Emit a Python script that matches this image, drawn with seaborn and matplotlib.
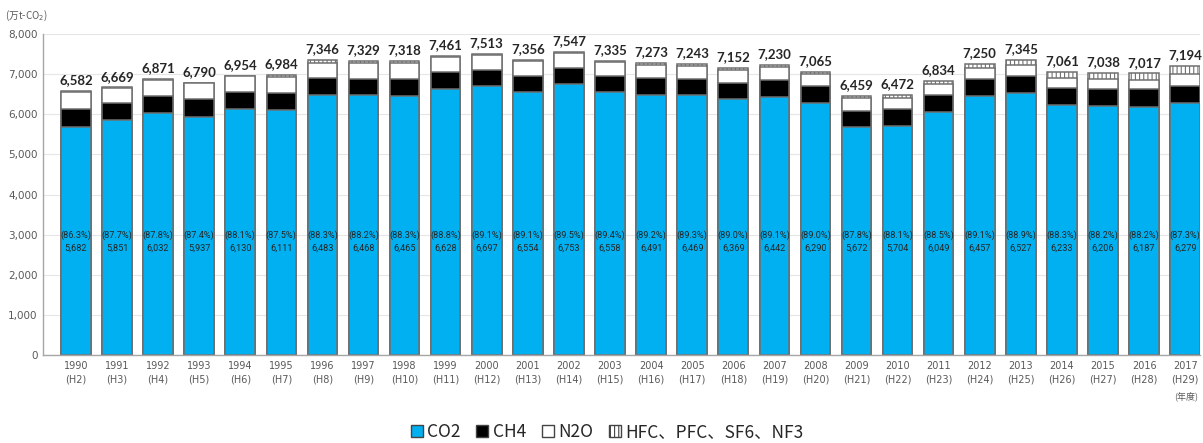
import matplotlib
matplotlib.use("Agg")
import matplotlib.pyplot as plt
from matplotlib.patches import Patch
import numpy as np
import pandas as pd
import seaborn as sns

# 温室効果ガス排出量の推移（万t-CO2）
years = [str(y) for y in range(1990, 2018)]
heisei = ["H2", "H3", "H4", "H5", "H6", "H7", "H8", "H9", "H10", "H11", "H12", "H13",
          "H14", "H15", "H16", "H17", "H18", "H19", "H20", "H21", "H22", "H23", "H24",
          "H25", "H26", "H27", "H28", "H29"]
co2 = [5682, 5851, 6032, 5937, 6130, 6111, 6483, 6468, 6465, 6628, 6697, 6554, 6753, 6558,
       6491, 6469, 6369, 6442, 6290, 5672, 5704, 6049, 6457, 6527, 6233, 6206, 6187, 6279]
ch4 = [450, 433, 434, 447, 436, 415, 415, 420, 418, 415, 410, 408, 405, 400,
       405, 400, 405, 410, 405, 420, 415, 420, 425, 430, 428, 432, 440, 430]
n2o = [430, 380, 400, 400, 380, 398, 388, 391, 390, 378, 371, 364, 359, 347,
       342, 334, 333, 328, 315, 307, 288, 285, 268, 268, 235, 230, 230, 305]
fgas = [20, 5, 5, 6, 8, 60, 60, 50, 45, 40, 35, 30, 30, 30,
        35, 40, 45, 50, 55, 60, 65, 80, 100, 120, 165, 170, 160, 180]
totals = [6582, 6669, 6871, 6790, 6954, 6984, 7346, 7329, 7318, 7461, 7513, 7356, 7547, 7335,
          7273, 7243, 7152, 7230, 7065, 6459, 6472, 6834, 7250, 7345, 7061, 7038, 7017, 7194]
co2_share = ["86.3", "87.7", "87.8", "87.4", "88.1", "87.5", "88.3", "88.2", "88.3", "88.8",
             "89.1", "89.1", "89.5", "89.4", "89.2", "89.3", "89.0", "89.1", "89.0", "87.8",
             "88.1", "88.5", "89.1", "88.9", "88.3", "88.2", "88.2", "87.3"]

df = pd.DataFrame({"year": years, "CO2": co2, "CH4": ch4, "N2O": n2o, "F": fgas})
df["lvl_ch4"] = df["CO2"] + df["CH4"]
df["lvl_n2o"] = df["lvl_ch4"] + df["N2O"]
df["lvl_all"] = df["lvl_n2o"] + df["F"]

sns.set_theme(style="white")
plt.rcParams["font.family"] = ["Noto Sans CJK JP", "DejaVu Sans"]
plt.rcParams["hatch.color"] = "#333333"
plt.rcParams["hatch.linewidth"] = 0.8

fig = plt.figure(figsize=(12.03, 4.43), dpi=100)
ax = fig.add_axes([43 / 1203, 1 - 355 / 443, (1200 - 43) / 1203, (355 - 34) / 443])

edge = "#707070"
bw = 0.72
# layers drawn from the tallest cumulative level down so each one covers the next
sns.barplot(data=df, x="year", y="lvl_all", color="white", edgecolor=edge, linewidth=1.1,
            hatch="||||", width=bw, ax=ax, saturation=1)
sns.barplot(data=df, x="year", y="lvl_n2o", color="white", edgecolor=edge, linewidth=1.1,
            width=bw, ax=ax, saturation=1)
sns.barplot(data=df, x="year", y="lvl_ch4", color="black", edgecolor=edge, linewidth=1.1,
            width=bw, ax=ax, saturation=1)
sns.barplot(data=df, x="year", y="CO2", color="#00B0F0", edgecolor=edge, linewidth=1.1,
            width=bw, ax=ax, saturation=1)

ax.set_ylim(0, 8000)
ax.set_xlim(-0.8, 27.36)
ax.set_yticks(range(0, 8001, 1000))
ax.set_yticklabels([f"{v:,}" for v in range(0, 8001, 1000)], fontsize=7.5,
                   color="#595959", family=["DejaVu Sans"])
ax.set_xticks(range(len(years)))
ax.set_xticklabels([f"{y}\n({h})" for y, h in zip(years, heisei)], fontsize=7,
                   color="#595959", linespacing=1.5, family=["DejaVu Sans"])
ax.tick_params(axis="both", length=0, pad=4)
ax.set_xlabel("")
ax.set_ylabel("")
ax.yaxis.grid(True, color="#e6e6e6", linewidth=0.8)
ax.set_axisbelow(True)
for side in ["top", "right"]:
    ax.spines[side].set_visible(False)
for side in ["left", "bottom"]:
    ax.spines[side].set_color("#a6a6a6")
    ax.spines[side].set_linewidth(1.0)

for i in range(len(years)):
    ax.text(i, totals[i] + 120, f"{totals[i]:,}", ha="center", va="bottom",
            fontsize=9.5, fontweight="bold", color="#262626", family=["Lato", "DejaVu Sans"])
    ax.text(i, 2820, f"({co2_share[i]}%)\n{co2[i]:,}", ha="center", va="center",
            fontsize=6.6, color="#262626", linespacing=1.5, family=["Roboto", "DejaVu Sans"])

fig.text(5 / 1203, 1 - 16 / 443, "(万t-CO$_2$)", fontsize=7, color="#595959", va="center")
fig.text(1198 / 1203, 1 - 396 / 443, "(年度)", fontsize=6.5, color="#595959",
         ha="right", va="center")

handles = [
    Patch(facecolor="#00B0F0", edgecolor="#444444", label="CO2"),
    Patch(facecolor="black", edgecolor="#444444", label="CH4"),
    Patch(facecolor="white", edgecolor="#444444", label="N2O"),
    Patch(facecolor="white", edgecolor="#444444", hatch="||||", label="HFC、PFC、SF6、NF3"),
]
fig.legend(handles=handles, loc="center", bbox_to_anchor=(607 / 1203, 1 - 432 / 443),
           ncol=4, frameon=False, handlelength=0.7, handleheight=0.7,
           handletextpad=0.25, columnspacing=0.9, borderaxespad=0,
           prop={"family": ["Noto Sans CJK JP", "DejaVu Sans"], "size": 12.5})

fig.savefig("out.png", dpi=100)
